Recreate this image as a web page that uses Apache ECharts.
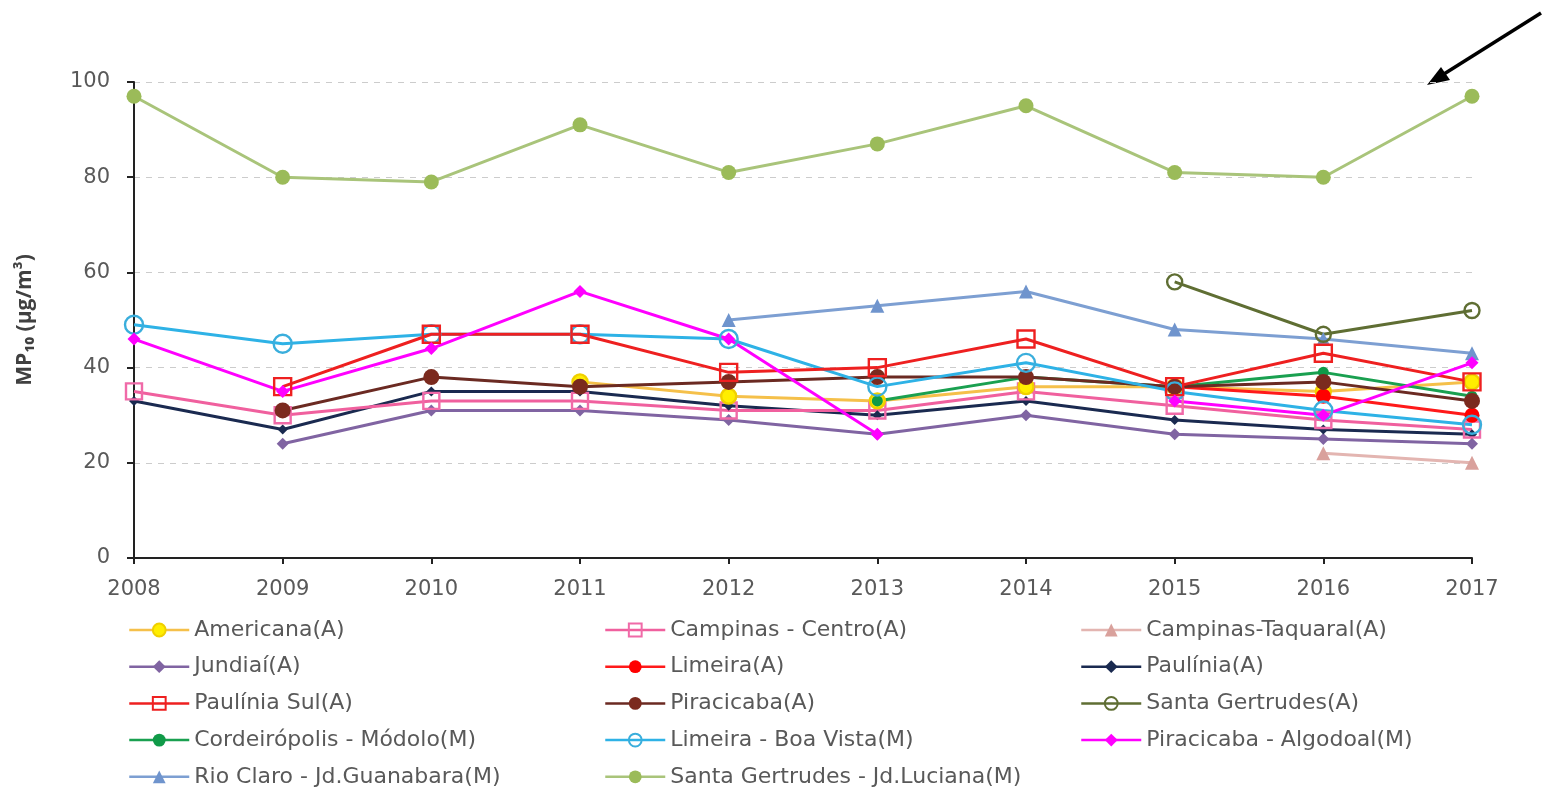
<!DOCTYPE html>
<html><head><meta charset="utf-8">
<script src="https://cdn.jsdelivr.net/npm/echarts@6/dist/echarts.min.js"></script>
<style>html,body{margin:0;padding:0;background:#fff}#c{width:1544px;height:791px}</style>
</head><body><div id="c"></div>
<script>
const years = ['2008','2009','2010','2011','2012','2013','2014','2015','2016','2017'];
const yTicks = [0,20,40,60,80,100];

const americana      = [null,null,null,37,34,33,36,36,35,37];
const campinasCentro = [35,30,33,33,31,31,35,32,29,27];
const campinasTaq    = [null,null,null,null,null,null,null,null,22,20];
const jundiai        = [null,24,31,31,29,26,30,26,25,24];
const limeira        = [null,null,null,null,null,null,null,36,34,30];
const paulinia       = [33,27,35,35,32,30,33,29,27,26];
const pauliniaSul    = [null,36,47,47,39,40,46,36,43,37];
const piracicaba     = [null,31,38,36,37,38,38,36,37,33];
const santaGertA     = [null,null,null,null,null,null,null,58,47,52];
const cordeiropolis  = [null,null,null,null,null,33,38,36,39,34];
const limeiraBV      = [49,45,47,47,46,36,41,35,31,28];
const algodoal       = [46,35,44,56,46,26,null,33,30,41];
const rioClaro       = [null,null,null,null,50,53,56,48,46,43];
const sgLuciana      = [97,80,79,91,81,87,95,81,80,97];

const names = {
  americana:'Americana(A)', campinasCentro:'Campinas - Centro(A)', campinasTaq:'Campinas-Taquaral(A)',
  jundiai:'Jundiaí(A)', limeira:'Limeira(A)', paulinia:'Paulínia(A)',
  pauliniaSul:'Paulínia Sul(A)', piracicaba:'Piracicaba(A)', santaGertA:'Santa Gertrudes(A)',
  cordeiropolis:'Cordeirópolis - Módolo(M)', limeiraBV:'Limeira - Boa Vista(M)', algodoal:'Piracicaba - Algodoal(M)',
  rioClaro:'Rio Claro - Jd.Guanabara(M)', sgLuciana:'Santa Gertrudes - Jd.Luciana(M)'
};

function mk(name, data, line, symbol, size, fill, border){
  return {
    name, type:'line', data, connectNulls:false,
    symbol, symbolSize:size, showAllSymbol:true,
    lineStyle:{color:line, width:3},
    itemStyle:{color:fill, borderColor:border||fill, borderWidth:border?2.4:0},
    emphasis:{disabled:true}, animation:false
  };
}
const T='rgba(255,255,255,0)';
const series = [
  mk(names.sgLuciana, sgLuciana, '#a9c47a', 'circle', 15, '#9bbb59'),
  mk(names.rioClaro, rioClaro, '#7d9fd2', 'triangle', 14, '#6f94cd'),
  mk(names.santaGertA, santaGertA, '#5f6e33', 'circle', 15, T, '#5f6e33'),
  mk(names.campinasTaq, campinasTaq, '#e3b5b1', 'triangle', 14, '#d9a19c'),
  mk(names.jundiai, jundiai, '#8064a2', 'diamond', 12, '#8064a2'),
  mk(names.paulinia, paulinia, '#1a2a50', 'diamond', 10, '#1a2a50'),
  mk(names.campinasCentro, campinasCentro, '#f0609e', 'rect', 16, T, '#f06aa8'),
  mk(names.americana, americana, '#f5c04a', 'circle', 15, '#ffee00', '#f0d000'),
  mk(names.limeira, limeira, '#ff1a1a', 'circle', 15, '#ff0000'),
  mk(names.cordeiropolis, cordeiropolis, '#1aa050', 'circle', 11, '#109a48'),
  mk(names.piracicaba, piracicaba, '#6b2a22', 'circle', 16, '#7b2a1e'),
  mk(names.limeiraBV, limeiraBV, '#2eb2e6', 'circle', 18, T, '#3aaedc'),
  mk(names.pauliniaSul, pauliniaSul, '#ee2020', 'rect', 17, T, '#ee2020'),
  mk(names.algodoal, algodoal, '#ff00ff', 'diamond', 13, '#ff00ff')
];

const FONT = 'DejaVu Sans';
const legendText = {color:'#595959', fontSize:22, fontFamily:FONT, lineHeight:22};
function lg(left, data){
  return {left, top:619, orient:'vertical', itemWidth:60, itemHeight:16, itemGap:14.7,
    lineStyle:{width:2.5}, data, textStyle:legendText, selectedMode:false, padding:0};
}

const option = {
  backgroundColor:'#fff',
  animation:false,
  grid:{left:134, right:72, top:82, bottom:233},
  xAxis:{type:'category', data:years, boundaryGap:false,
    axisLine:{lineStyle:{color:'#222', width:2}},
    axisTick:{show:true, length:6, lineStyle:{color:'#222', width:2}},
    axisLabel:{color:'#595959', fontSize:21, fontFamily:FONT, margin:21},
    splitLine:{show:false}},
  yAxis:{type:'value', min:yTicks[0], max:yTicks[yTicks.length-1], interval:20,
    name:'MP₁₀ (µg/m³)', nameLocation:'middle', nameRotate:90, nameGap:98,
    nameTextStyle:{color:'#404040', fontSize:21, fontWeight:'bold', fontFamily:'Open Sans'},
    axisLine:{show:true, lineStyle:{color:'#222', width:2}},
    axisTick:{show:true, length:7, lineStyle:{color:'#222', width:2}},
    axisLabel:{color:'#595959', fontSize:21, fontFamily:FONT, margin:24},
    splitLine:{show:true, lineStyle:{color:'#cccccc', type:[6,6], width:1}}},
  legend:[
    lg(128, [names.americana, names.jundiai, names.pauliniaSul, names.cordeiropolis, names.rioClaro]),
    lg(604, [names.campinasCentro, names.limeira, names.piracicaba, names.limeiraBV, names.sgLuciana]),
    lg(1080, [names.campinasTaq, names.paulinia, names.santaGertA, names.algodoal])
  ],
  series,
  graphic:[
    {type:'line', shape:{x1:1541, y1:13, x2:1436, y2:79}, style:{stroke:'#000', lineWidth:3.5}, silent:true},
    {type:'polygon', shape:{points:[[1427,85],[1450,80],[1441,67]]}, style:{fill:'#000'}, silent:true}
  ]
};
const chart = echarts.init(document.getElementById('c'), null, {renderer:'canvas'});
chart.setOption(option);
</script></body></html>
